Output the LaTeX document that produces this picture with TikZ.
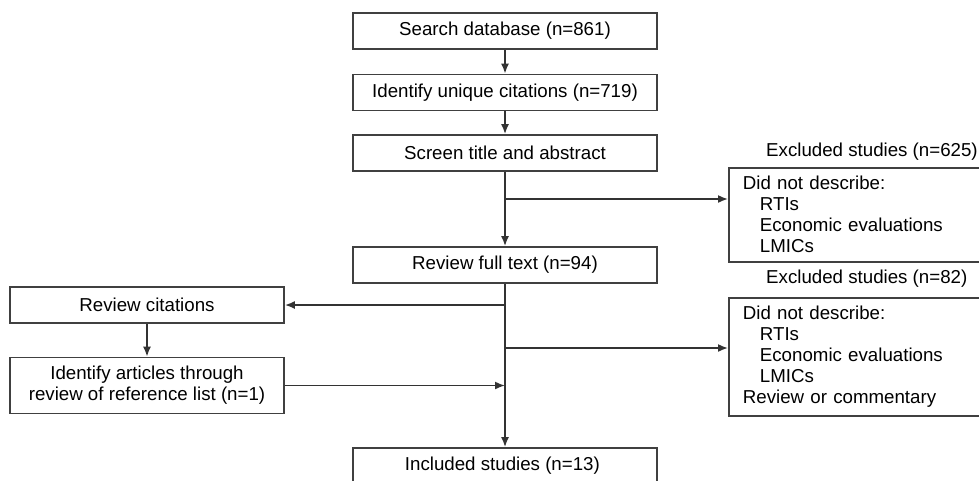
\documentclass[tikz,border=0pt]{standalone}
\usepackage{fontspec}
\setmainfont{Liberation Sans}
\usetikzlibrary{arrows.meta}

\begin{document}
\begin{tikzpicture}[x=1pt,y=-1pt,
	box/.style={draw=black!75, line width=1.8pt, fill=white, inner sep=0pt, minimum width=304pt, minimum height=36pt, align=center, font=\fontsize{18.7}{21}\selectfont},
	sidebox/.style={box, minimum width=274pt},
	exbox/.style={draw=black!75, line width=1.8pt, anchor=north west, inner xsep=14pt, inner ysep=8.5pt, text width=240pt, align=left, font=\fontsize{18.7}{21}\selectfont},
	lbl/.style={anchor=west, inner sep=0pt, font=\fontsize{18.7}{21}\selectfont},
	arr/.style={draw=black!80, line width=1.6pt, -{Latex[length=10pt,width=8pt]}}]
		\clip (0,0) rectangle (979,480);
		% main column
		\foreach \y/\alph/\name in {
			31/search/Search database (n=861),
			92.5/unique/Identify unique citations (n=719),
			153/screen/Screen title and abstract,
			265/fulltext/Review full text (n=94),
			466/included/Included studies (n=13)
		}{
			\node[box] (\alph) at (505,\y) {\name};
		}
		% left column
		\node[sidebox] (revcit) at (147,305) {Review citations};
		\node[sidebox, minimum height=56pt] (idart) at (147,385.5) {Identify articles through\\review of reference list (n=1)};
		% exclusions
		\node[lbl] (exlbl1) at (766,152) {Excluded studies (n=625)};
		\node[exbox] (exc1) at (728,167) {Did not describe:\\\hspace*{17pt}RTIs\\\hspace*{17pt}Economic evaluations\\\hspace*{17pt}LMICs};
		\node[lbl] (exlbl2) at (766,279) {Excluded studies (n=82)};
		\node[exbox] (exc2) at (728,297) {Did not describe:\\\hspace*{17pt}RTIs\\\hspace*{17pt}Economic evaluations\\\hspace*{17pt}LMICs\\Review or commentary};
		% connectors
		\draw[arr] (search) -- (unique);
		\draw[arr] (unique) -- (screen);
		\draw[arr] (screen) -- (fulltext);
		\coordinate (b1) at (505,199);
		\draw[arr] (b1) -- (b1 -| exc1.west);
		\draw[arr] (fulltext) -- (included);
		\draw[arr] (fulltext.south |- revcit.east) -- (revcit.east);
		\coordinate (b2) at (505,348);
		\draw[arr] (b2) -- (b2 -| exc2.west);
		\draw[arr] (revcit) -- (idart);
		\draw[arr] (idart.east) -- (idart.east -| fulltext.south);
\end{tikzpicture}
\end{document}
